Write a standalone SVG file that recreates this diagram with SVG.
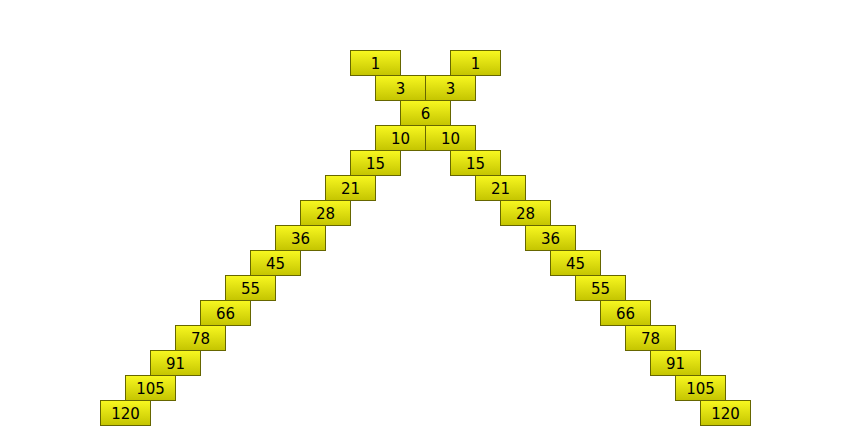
<svg xmlns="http://www.w3.org/2000/svg" width="851" height="426" viewBox="0 0 851 426">
<defs>
<linearGradient id="g" x1="0" y1="0" x2="0" y2="1">
<stop offset="0" stop-color="#f8f820"/>
<stop offset="1" stop-color="#c4c400"/>
</linearGradient>
<style>
rect{fill:url(#g);stroke:#666600;stroke-width:1}
text{font-family:"DejaVu Sans","Liberation Sans",sans-serif;font-size:15px;fill:#000;text-anchor:middle}
</style>
</defs>
<rect x="0" y="0" width="851" height="426" style="fill:#fff;stroke:none"/>
<g id="connectors"/>
<g id="l0"><rect x="350.5" y="50.5" width="50" height="25"/><text x="375.5" y="68.5">1</text></g>
<g id="r0"><rect x="450.5" y="50.5" width="50" height="25"/><text x="475.5" y="68.5">1</text></g>
<g id="l1"><rect x="375.5" y="75.5" width="50" height="25"/><text x="400.5" y="93.5">3</text></g>
<g id="r1"><rect x="425.5" y="75.5" width="50" height="25"/><text x="450.5" y="93.5">3</text></g>
<g id="c2"><rect x="400.5" y="100.5" width="50" height="25"/><text x="425.5" y="118.5">6</text></g>
<g id="l3"><rect x="375.5" y="125.5" width="50" height="25"/><text x="400.5" y="143.5">10</text></g>
<g id="r3"><rect x="425.5" y="125.5" width="50" height="25"/><text x="450.5" y="143.5">10</text></g>
<g id="l4"><rect x="350.5" y="150.5" width="50" height="25"/><text x="375.5" y="168.5">15</text></g>
<g id="r4"><rect x="450.5" y="150.5" width="50" height="25"/><text x="475.5" y="168.5">15</text></g>
<g id="l5"><rect x="325.5" y="175.5" width="50" height="25"/><text x="350.5" y="193.5">21</text></g>
<g id="r5"><rect x="475.5" y="175.5" width="50" height="25"/><text x="500.5" y="193.5">21</text></g>
<g id="l6"><rect x="300.5" y="200.5" width="50" height="25"/><text x="325.5" y="218.5">28</text></g>
<g id="r6"><rect x="500.5" y="200.5" width="50" height="25"/><text x="525.5" y="218.5">28</text></g>
<g id="l7"><rect x="275.5" y="225.5" width="50" height="25"/><text x="300.5" y="243.5">36</text></g>
<g id="r7"><rect x="525.5" y="225.5" width="50" height="25"/><text x="550.5" y="243.5">36</text></g>
<g id="l8"><rect x="250.5" y="250.5" width="50" height="25"/><text x="275.5" y="268.5">45</text></g>
<g id="r8"><rect x="550.5" y="250.5" width="50" height="25"/><text x="575.5" y="268.5">45</text></g>
<g id="l9"><rect x="225.5" y="275.5" width="50" height="25"/><text x="250.5" y="293.5">55</text></g>
<g id="r9"><rect x="575.5" y="275.5" width="50" height="25"/><text x="600.5" y="293.5">55</text></g>
<g id="l10"><rect x="200.5" y="300.5" width="50" height="25"/><text x="225.5" y="318.5">66</text></g>
<g id="r10"><rect x="600.5" y="300.5" width="50" height="25"/><text x="625.5" y="318.5">66</text></g>
<g id="l11"><rect x="175.5" y="325.5" width="50" height="25"/><text x="200.5" y="343.5">78</text></g>
<g id="r11"><rect x="625.5" y="325.5" width="50" height="25"/><text x="650.5" y="343.5">78</text></g>
<g id="l12"><rect x="150.5" y="350.5" width="50" height="25"/><text x="175.5" y="368.5">91</text></g>
<g id="r12"><rect x="650.5" y="350.5" width="50" height="25"/><text x="675.5" y="368.5">91</text></g>
<g id="l13"><rect x="125.5" y="375.5" width="50" height="25"/><text x="150.5" y="393.5">105</text></g>
<g id="r13"><rect x="675.5" y="375.5" width="50" height="25"/><text x="700.5" y="393.5">105</text></g>
<g id="l14"><rect x="100.5" y="400.5" width="50" height="25"/><text x="125.5" y="418.5">120</text></g>
<g id="r14"><rect x="700.5" y="400.5" width="50" height="25"/><text x="725.5" y="418.5">120</text></g>
</svg>
